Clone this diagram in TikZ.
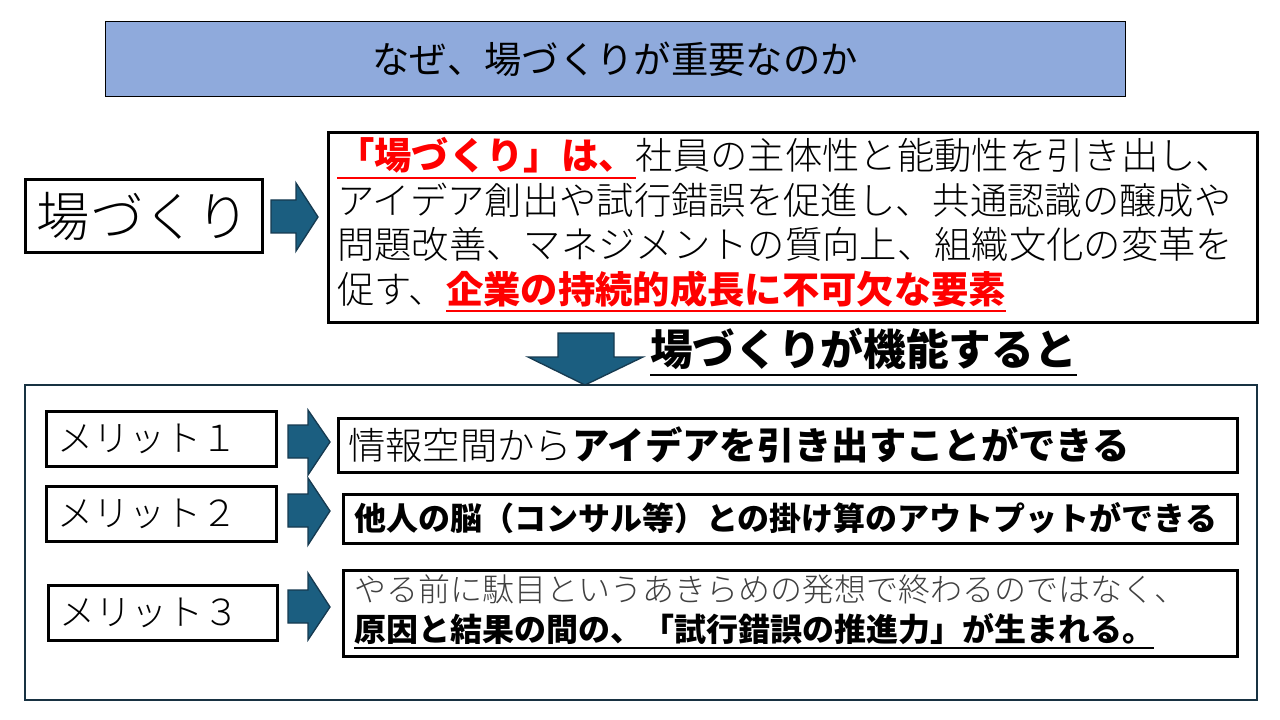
\documentclass[tikz,border=0pt]{standalone}
\usepackage{fontspec}
\setmainfont{Noto Sans CJK JP}
\newfontfamily\lightjp{Noto Sans CJK JP Light}
\usetikzlibrary{arrows}
\definecolor{titleblue}{RGB}{143,170,220}
\definecolor{arrowblue}{RGB}{27,94,128}
\definecolor{arrowedge}{RGB}{22,58,80}
\definecolor{frameedge}{RGB}{24,50,66}
\definecolor{textgray}{RGB}{64,64,64}
\newcommand{\lineunder}[1]{\setbox0\hbox{#1}\leavevmode\rlap{\rule[-0.24em]{\wd0}{1.5pt}}\box0}
\tikzset{
  framebox/.style={line width=2.25pt},
  blockarrow/.style={line width=1pt,draw=arrowedge,fill=arrowblue},
  plaintext/.style={inner sep=0pt,anchor=west}
}

\begin{document}
\begin{tikzpicture}[line cap=round,line join=miter,x=0.75pt,y=-0.75pt]
\useasboundingbox (0,0) rectangle (1280,720);
\fill [white] (0,0) rectangle (1280,720);
% title
\draw [line width=0.75pt,fill=titleblue] (105,22) rectangle (1125,97);
\draw (615,59) node (title) {\fontsize{28}{34}\selectfont なぜ、場づくりが重要なのか};
% top row
\draw [framebox] (25,180) rectangle (262,252);
\draw (143.5,216) node (ba) {\fontsize{40}{46}\selectfont\lightjp 場づくり};
\draw [blockarrow] (271,200) -- (296,200) -- (296,183) -- (318,217) -- (296,251) -- (296,233) -- (271,233) -- cycle;
\draw [framebox] (328,133) rectangle (1257,322);
\draw (337,225) node[plaintext,align=left,font=\fontsize{28}{33.4}\selectfont\lightjp] (why) {%
  \textcolor{red}{\normalfont\fontsize{28}{33.4}\selectfont\bfseries\lineunder{「場づくり」は、}}社員の主体性と能動性を引き出し、\\
  アイデア創出や試行錯誤を促進し、共通認識の醸成や\\
  問題改善、マネジメントの質向上、組織文化の変革を\\
  促す、\textcolor{red}{\normalfont\fontsize{28}{33.4}\selectfont\bfseries\lineunder{企業の持続的成長に不可欠な要素}}};
% down arrow
\draw [blockarrow] (558,333) -- (614,333) -- (614,357) -- (643,357) -- (585,385) -- (528,357) -- (558,357) -- cycle;
\draw (650,352) node[plaintext] (func) {\fontsize{32}{38}\selectfont\bfseries\lineunder{場づくりが機能すると}};
% merits
\draw [line width=2pt,draw=frameedge] (25,385) rectangle (1257,700);
\draw [framebox] (46,411) rectangle (276,466);
\draw (57,438.5) node[plaintext] (m1) {\fontsize{27}{30}\selectfont\lightjp メリット１};
\draw [blockarrow] (288,425) -- (308,425) -- (308,410) -- (330,442) -- (308,475) -- (308,458) -- (288,458) -- cycle;
\draw [framebox] (338,418) rectangle (1237,472);
\draw (348,445) node[plaintext] (r1) {\fontsize{28}{32}\selectfont{\lightjp 情報空間から}\textbf{アイデアを引き出すことができる}};
\draw [framebox] (46,486) rectangle (276,541);
\draw (57,513.5) node[plaintext] (m2) {\fontsize{27}{30}\selectfont\lightjp メリット２};
\draw [blockarrow] (288,494) -- (308,494) -- (308,478) -- (330,511) -- (308,545) -- (308,527) -- (288,527) -- cycle;
\draw [framebox] (343,494) rectangle (1237,543);
\draw (354,518.5) node[plaintext] (r2) {\fontsize{24}{28}\selectfont\bfseries 他人の脳（コンサル等）との掛け算のアウトプットができる};
\draw [framebox] (48,585) rectangle (277,640);
\draw (59,612.5) node[plaintext] (m3) {\fontsize{27}{30}\selectfont\lightjp メリット３};
\draw [blockarrow] (288,590) -- (308,590) -- (308,573) -- (330,607) -- (308,640) -- (308,623) -- (288,623) -- cycle;
\draw [framebox] (343,570) rectangle (1237,656);
\draw (354,612) node[plaintext,align=left,font=\fontsize{24}{30}\selectfont] (r3) {%
  \textcolor{textgray}{\lightjp やる前に駄目というあきらめの発想で終わるのではなく、}\\
  \bfseries\lineunder{原因と結果の間の、「試行錯誤の推進力」が生まれる。}};
\end{tikzpicture}
\end{document}
